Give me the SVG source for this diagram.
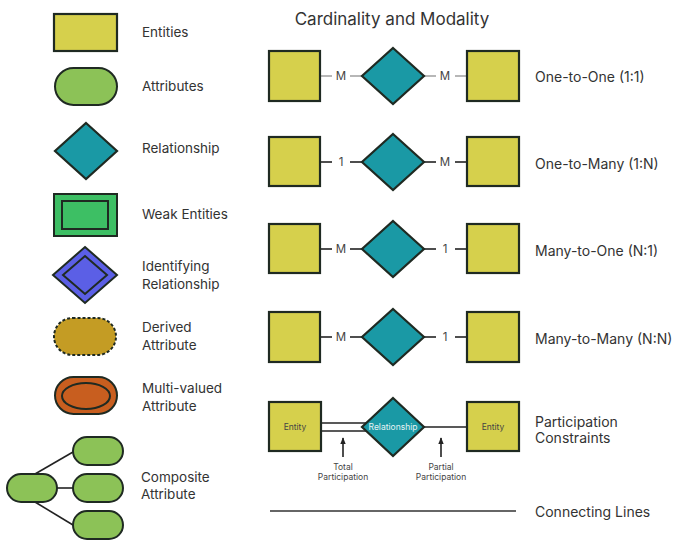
<svg xmlns="http://www.w3.org/2000/svg" width="673" height="546" viewBox="0 0 673 546">
<style>
text{font-family:Inter,"Noto Sans","Liberation Sans",sans-serif;fill:#333;}
.lbl{font-size:13.5px;}
.rl{font-size:14px;}
.card{font-size:11.5px;fill:#444;}
.small{font-size:8.5px;fill:#444;}
.ent{fill:#d6d04c;stroke:#1f2a22;stroke-width:2.2;}
.att{fill:#8cc257;stroke:#1f2a22;stroke-width:2;}
.rel{fill:#1a99a5;stroke:#1f2a22;stroke-width:2.2;}
.ln{stroke:#222;stroke-width:1.6;fill:none;}
.lg{stroke:#999;stroke-width:1.4;fill:none;}
</style>
<defs>
<marker id="ah" viewBox="0 0 10 10" refX="9" refY="5" markerWidth="7" markerHeight="7" orient="auto" markerUnits="userSpaceOnUse">
<path d="M0,1 L10,5 L0,9 Z" fill="#222"/>
</marker>
</defs>
<rect width="673" height="546" fill="#fff"/>

<!-- Legend -->
<g id="legend-entity"><rect class="ent" x="54" y="14" width="63" height="37"/><text class="lbl" x="142" y="37">Entities</text></g>
<g id="legend-attribute"><rect class="att" x="55" y="68" width="62" height="37" rx="18.5"/><text class="lbl" x="142" y="91">Attributes</text></g>
<g id="legend-relationship"><polygon class="rel" points="86,123 117,151 86,179 55,151"/><text class="lbl" x="142" y="153">Relationship</text></g>
<g id="legend-weak"><rect x="54" y="194" width="63" height="42" fill="#3dbf64" stroke="#1f2a22" stroke-width="2"/><rect x="62" y="201" width="46" height="28" fill="#3dbf64" stroke="#1f2a22" stroke-width="2"/><text class="lbl" x="142" y="219">Weak Entities</text></g>
<g id="legend-identifying"><polygon points="85,247 117,275 85,303 53,275" fill="#5b5fe6" stroke="#1f2a22" stroke-width="2"/><polygon points="85,256 107,275 85,294 63,275" fill="#5b5fe6" stroke="#1f2a22" stroke-width="2"/><text class="lbl" x="142" y="271">Identifying</text><text class="lbl" x="142" y="289">Relationship</text></g>
<g id="legend-derived"><rect x="54" y="318" width="62" height="37" rx="18.5" fill="#c49c24" stroke="#1f2a22" stroke-width="2" stroke-dasharray="3,2"/><text class="lbl" x="142" y="332">Derived</text><text class="lbl" x="142" y="350">Attribute</text></g>
<g id="legend-multivalued"><rect x="55" y="377" width="62" height="37" rx="18.5" fill="#c85e1f" stroke="#1f2a22" stroke-width="2"/><ellipse cx="86" cy="396" rx="24" ry="13" fill="#c85e1f" stroke="#1f2a22" stroke-width="2"/><text class="lbl" x="142" y="393">Multi-valued</text><text class="lbl" x="142" y="411">Attribute</text></g>
<g id="legend-composite">
<line class="ln" x1="35" y1="474" x2="73" y2="452"/><line class="ln" x1="57" y1="488" x2="73" y2="488"/><line class="ln" x1="35" y1="502" x2="73" y2="525"/>
<rect class="att" x="7" y="474" width="50" height="28" rx="14"/>
<rect class="att" x="73" y="437" width="50" height="28" rx="14"/>
<rect class="att" x="73" y="474" width="50" height="28" rx="14"/>
<rect class="att" x="73" y="511" width="50" height="28" rx="14"/>
<text class="lbl" x="141" y="482">Composite</text><text class="lbl" x="141" y="499">Attribute</text></g>

<text x="392" y="25" text-anchor="middle" font-size="17" style="fill:#333">Cardinality and Modality</text>

<!-- Connectors -->
<g id="connectors">
<line class="lg" x1="320" y1="76" x2="332" y2="76"/><line class="lg" x1="350" y1="76" x2="362" y2="76"/>
<line class="lg" x1="424" y1="76" x2="436" y2="76"/><line class="lg" x1="455" y1="76" x2="467" y2="76"/>
<line class="ln" x1="320" y1="162" x2="332" y2="162"/><line class="ln" x1="350" y1="162" x2="362" y2="162"/>
<line class="ln" x1="424" y1="162" x2="436" y2="162"/><line class="ln" x1="455" y1="162" x2="467" y2="162"/>
<line class="ln" x1="320" y1="249" x2="332" y2="249"/><line class="ln" x1="350" y1="249" x2="362" y2="249"/>
<line class="ln" x1="424" y1="249" x2="436" y2="249"/><line class="ln" x1="455" y1="249" x2="467" y2="249"/>
<line class="ln" x1="320" y1="337" x2="332" y2="337"/><line class="ln" x1="350" y1="337" x2="362" y2="337"/>
<line class="ln" x1="424" y1="337" x2="436" y2="337"/><line class="ln" x1="455" y1="337" x2="467" y2="337"/>
<line class="ln" x1="322" y1="423" x2="366" y2="423"/><line class="ln" x1="322" y1="431" x2="366" y2="431"/>
<line class="ln" x1="424" y1="427" x2="467" y2="427"/>
<line class="ln" x1="343" y1="457" x2="343" y2="438" marker-end="url(#ah)" stroke-width="1.3"/>
<line class="ln" x1="441" y1="457" x2="441" y2="438" marker-end="url(#ah)" stroke-width="1.3"/>
<line x1="270" y1="511" x2="516" y2="511" stroke="#333" stroke-width="1.6"/>
</g>
<g id="cardinality-labels">
<text class="card" x="341" y="80" text-anchor="middle">M</text><text class="card" x="445" y="80" text-anchor="middle">M</text>
<text class="card" x="341" y="166" text-anchor="middle">1</text><text class="card" x="445" y="166" text-anchor="middle">M</text>
<text class="card" x="341" y="253" text-anchor="middle">M</text><text class="card" x="445" y="253" text-anchor="middle">1</text>
<text class="card" x="341" y="341" text-anchor="middle">M</text><text class="card" x="445" y="341" text-anchor="middle">1</text>
</g>

<!-- Row 1 -->
<g id="r1-left"><rect class="ent" x="269" y="51" width="51" height="50"/></g>
<g id="r1-rel"><polygon class="rel" points="393,48 424,76 393,104 362,76"/></g>
<g id="r1-right"><rect class="ent" x="467" y="51" width="52" height="50"/></g>
<text class="rl" x="535" y="82">One-to-One (1:1)</text>
<!-- Row 2 -->
<g id="r2-left"><rect class="ent" x="269" y="137" width="51" height="49"/></g>
<g id="r2-rel"><polygon class="rel" points="393,134 424,162 393,190 362,162"/></g>
<g id="r2-right"><rect class="ent" x="467" y="137" width="52" height="49"/></g>
<text class="rl" x="535" y="169">One-to-Many (1:N)</text>
<!-- Row 3 -->
<g id="r3-left"><rect class="ent" x="269" y="224" width="51" height="49"/></g>
<g id="r3-rel"><polygon class="rel" points="393,221 424,249 393,277 362,249"/></g>
<g id="r3-right"><rect class="ent" x="467" y="224" width="52" height="49"/></g>
<text class="rl" x="535" y="256">Many-to-One (N:1)</text>
<!-- Row 4 -->
<g id="r4-left"><rect class="ent" x="269" y="312" width="51" height="50"/></g>
<g id="r4-rel"><polygon class="rel" points="393,309 424,337 393,365 362,337"/></g>
<g id="r4-right"><rect class="ent" x="467" y="312" width="52" height="50"/></g>
<text class="rl" x="535" y="344">Many-to-Many (N:N)</text>
<!-- Row 5 -->
<g id="r5-left"><rect class="ent" x="269" y="402" width="52" height="49"/><text class="small" x="295" y="430" text-anchor="middle">Entity</text></g>
<g id="r5-rel"><polygon class="rel" points="393,398 424,427 393,456 362,427"/><text class="small" x="393" y="430" text-anchor="middle" style="fill:#e6f4f5">Relationship</text></g>
<g id="r5-right"><rect class="ent" x="467" y="402" width="52" height="49"/><text class="small" x="493" y="430" text-anchor="middle">Entity</text></g>
<text class="small" x="343" y="470" text-anchor="middle">Total</text><text class="small" x="343" y="480" text-anchor="middle">Participation</text>
<text class="small" x="441" y="470" text-anchor="middle">Partial</text><text class="small" x="441" y="480" text-anchor="middle">Participation</text>
<text class="rl" x="535" y="427">Participation</text><text class="rl" x="535" y="443">Constraints</text>
<text class="rl" x="535" y="517">Connecting Lines</text>
</svg>
